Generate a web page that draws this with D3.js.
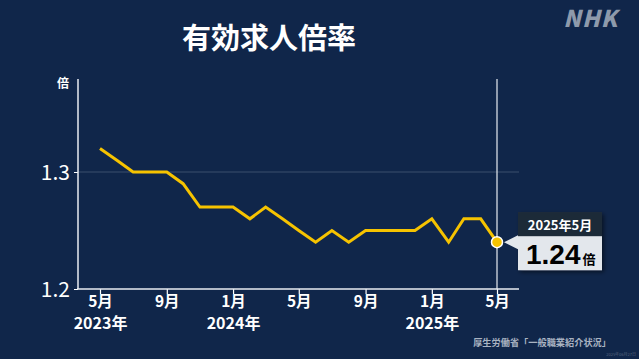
<!DOCTYPE html>
<html><head><meta charset="utf-8">
<script src="https://cdn.jsdelivr.net/npm/d3@7"></script>
<style>
html,body{margin:0;padding:0;background:#10264a;}
svg{display:block;}
text{font-family:"Noto Sans CJK JP","Noto Sans",sans-serif;}
</style></head>
<body>
<svg id="c" width="639" height="359"></svg>
<script>
const months = ["2023-05","2023-06","2023-07","2023-08","2023-09","2023-10","2023-11","2023-12",
"2024-01","2024-02","2024-03","2024-04","2024-05","2024-06","2024-07","2024-08","2024-09","2024-10","2024-11","2024-12",
"2025-01","2025-02","2025-03","2025-04","2025-05"];
const ratio = [1.32,1.31,1.30,1.30,1.30,1.29,1.27,1.27,1.27,1.26,1.27,1.26,1.25,1.24,1.25,1.24,1.25,1.25,1.25,1.25,1.26,1.24,1.26,1.26,1.24];
const yTicks = [1.2,1.3];
const xTickMonths = ["2023-05","2023-09","2024-01","2024-05","2024-09","2025-01","2025-05"];
const xTickLabels = ["5月","9月","1月","5月","9月","1月","5月"];
const yearLabels = {"2023-05":"2023年","2024-01":"2024年","2025-01":"2025年"};
const title = "有効求人倍率";
const source = "厚生労働省「一般職業紹介状況」";

const svg = d3.select("#c");
const parse = d3.timeParse("%Y-%m");
const data = months.map((m,i)=>({d:parse(m),v:ratio[i]}));

const x = d3.scaleTime().domain([parse("2023-05"),parse("2025-05")]).range([100,497]);
const y = d3.scaleLinear().domain([1.2,1.3]).range([289,172]);

svg.append("rect").attr("width",639).attr("height",359).attr("fill","#10264a");

// title
svg.append("text").attr("x",269).attr("y",49).attr("text-anchor","middle")
  .attr("fill","#fff").attr("font-size",29).attr("font-weight",700).text(title);

// NHK logo
svg.append("text").attr("x",618).attr("y",27).attr("text-anchor","end")
  .attr("fill","#8e9aab").attr("font-size",23).attr("font-weight",900)
  .attr("font-style","italic").attr("font-family","'DejaVu Sans',sans-serif")
  .attr("letter-spacing",1).text("NHK");

// gridline at 1.3
svg.append("line").attr("x1",78).attr("x2",519).attr("y1",y(1.3)).attr("y2",y(1.3))
  .attr("stroke","#3a4e6c").attr("stroke-width",1);

// y axis
const yAxis = d3.axisLeft(y).tickValues(yTicks).tickSize(4).tickFormat(d3.format(".1f"));
const gy = svg.append("g").attr("transform","translate(78,0)").call(yAxis);
gy.select(".domain").remove();
gy.selectAll(".tick line").attr("stroke","#fff");
gy.selectAll(".tick text").attr("fill","#fff").attr("font-size",21)
  .attr("font-family","'Liberation Sans',Arial,sans-serif").attr("x",-8).attr("dy","0.36em");
svg.append("line").attr("x1",78).attr("x2",78).attr("y1",79).attr("y2",289).attr("stroke","#e8ecf2").attr("stroke-width",1.5);
svg.append("text").attr("x",69).attr("y",88).attr("text-anchor","end").attr("fill","#fff")
  .attr("font-size",12).attr("font-weight",700).text("倍");

// x axis
const xAxis = d3.axisBottom(x).tickValues(xTickMonths.map(parse)).tickSize(5).tickFormat((d,i)=>xTickLabels[i]);
const gx = svg.append("g").attr("transform","translate(0,289)").call(xAxis);
gx.select(".domain").remove();
gx.selectAll(".tick line").attr("stroke","#fff").attr("stroke-width",1.2);
gx.selectAll(".tick text").attr("fill","#fff").attr("font-size",15.5).attr("font-weight",700).attr("y",4).attr("dy","0.9em");
svg.append("line").attr("x1",77).attr("x2",519).attr("y1",289).attr("y2",289).attr("stroke","#e8ecf2").attr("stroke-width",1.5);
gx.selectAll(".tick").each(function(d){
  const k = d3.timeFormat("%Y-%m")(d);
  if(yearLabels[k]) d3.select(this).append("text").attr("fill","#fff").attr("font-size",16)
    .attr("font-weight",700).attr("text-anchor","middle").attr("y",39.5).text(yearLabels[k]);
});

// vertical line at latest
const last = data[data.length-1];
svg.append("line").attr("x1",x(last.d)).attr("x2",x(last.d)).attr("y1",79).attr("y2",289)
  .attr("stroke","#e8ecf2").attr("stroke-width",1.2);

// line
svg.append("path").datum(data).attr("fill","none").attr("stroke","#f6c300").attr("stroke-width",3)
  .attr("stroke-linejoin","miter").attr("d",d3.line().x(d=>x(d.d)).y(d=>y(d.v)));

// dot
svg.append("circle").attr("cx",x(last.d)).attr("cy",y(last.v)).attr("r",5.5)
  .attr("fill","#f6c300").attr("stroke","#fff").attr("stroke-width",1.5);

// callout
const cx = x(last.d), cy = y(last.v);
const bx = cx+21, bw = 84;
const defs = svg.append("defs");
const f = defs.append("filter").attr("id","sh").attr("x","-20%").attr("y","-20%").attr("width","150%").attr("height","150%");
f.append("feDropShadow").attr("dx",2).attr("dy",2).attr("stdDeviation",2).attr("flood-color","#000").attr("flood-opacity",0.5);
const cg = svg.append("g").attr("filter","url(#sh)");
cg.append("rect").attr("x",bx).attr("y",cy-30).attr("width",bw).attr("height",25).attr("fill","#1f2c39");
cg.append("rect").attr("x",bx).attr("y",cy-6).attr("width",bw).attr("height",34).attr("fill","#e3e7ec");
svg.append("path").attr("d",`M${cx+7},${cy} L${bx},${cy-7} L${bx},${cy+7} Z`).attr("fill","#e3e7ec");
svg.append("text").attr("x",bx+bw/2).attr("y",cy-12).attr("text-anchor","middle").attr("fill","#fff")
  .attr("font-size",13).attr("font-weight",700).text(d3.timeFormat("%Y")(last.d)+"年"+(+d3.timeFormat("%m")(last.d))+"月");
const vt = svg.append("text").attr("x",bx+8).attr("y",cy+22).attr("fill","#000").attr("font-weight",700);
vt.append("tspan").attr("font-size",28).attr("font-family","'Liberation Sans',Arial,sans-serif").text(d3.format(".2f")(last.v));
vt.append("tspan").attr("font-size",13).attr("dx",2).text("倍");

// source
svg.append("text").attr("x",611).attr("y",346).attr("text-anchor","end").attr("fill","#a9b3c2")
  .attr("font-size",9.2).attr("font-weight",700).text(source);
svg.append("text").attr("x",636).attr("y",356).attr("text-anchor","end").attr("fill","#55647c")
  .attr("font-size",4).text("2025年06月27日");
</script>
</body></html>
